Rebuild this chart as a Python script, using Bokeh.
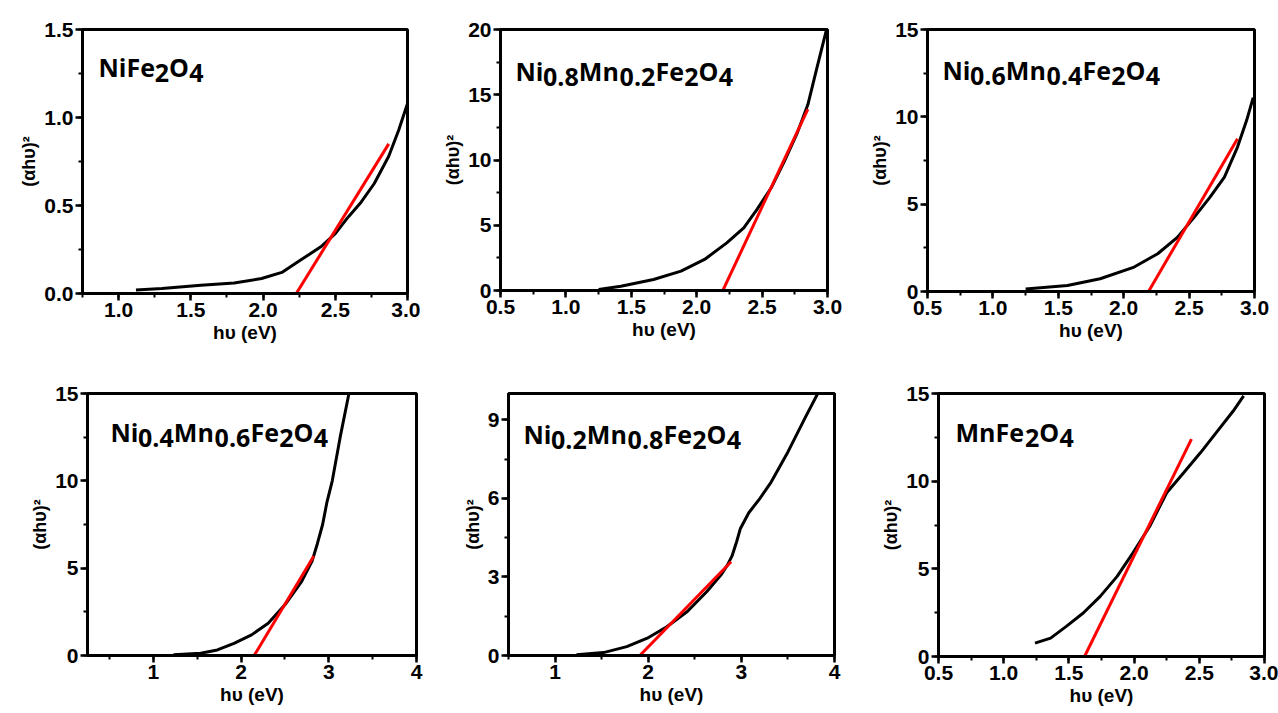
from bokeh.plotting import figure
from bokeh.layouts import column, row
from bokeh.models import Label, SingleIntervalTicker, NumeralTickFormatter, Range1d
from bokeh.embed import file_html
from bokeh.resources import INLINE

# ---------------- data ----------------
# NiFe2O4
x1 = [1.12, 1.30, 1.57, 1.80, 1.99, 2.13, 2.26, 2.40, 2.50, 2.59, 2.68, 2.77, 2.87, 2.94, 3.00]
y1 = [0.02, 0.028, 0.047, 0.06, 0.085, 0.12, 0.19, 0.265, 0.34, 0.435, 0.52, 0.625, 0.78, 0.93, 1.08]
fx1 = [2.23, 2.87]
fy1 = [0.0, 0.85]
# Ni0.8Mn0.2Fe2O4
x2 = [1.25, 1.42, 1.67, 1.88, 2.06, 2.23, 2.36, 2.46, 2.57, 2.67, 2.77, 2.85, 2.92, 2.99]
y2 = [0.08, 0.33, 0.84, 1.48, 2.38, 3.65, 4.8, 6.2, 7.87, 9.9, 12.1, 14.25, 17.1, 19.9]
fx2 = [2.20, 2.85]
fy2 = [0.0, 13.9]
# Ni0.6Mn0.4Fe2O4
x3 = [1.25, 1.57, 1.82, 2.08, 2.26, 2.41, 2.54, 2.66, 2.77, 2.87, 2.94, 2.99]
y3 = [0.15, 0.34, 0.73, 1.4, 2.16, 3.1, 4.26, 5.4, 6.55, 8.27, 9.8, 11.1]
fx3 = [2.19, 2.87]
fy3 = [0.0, 8.75]
# Ni0.4Mn0.6Fe2O4
x4 = [1.23, 1.54, 1.73, 1.92, 2.12, 2.31, 2.50, 2.69, 2.81, 2.87, 2.93, 2.98, 3.04, 3.13, 3.23]
y4 = [0.04, 0.13, 0.32, 0.7, 1.18, 1.85, 2.9, 4.23, 5.4, 6.4, 7.5, 8.8, 10.0, 12.5, 15.0]
fx4 = [2.15, 2.83]
fy4 = [0.0, 5.7]
# Ni0.2Mn0.8Fe2O4
x5 = [1.23, 1.52, 1.77, 1.99, 2.20, 2.42, 2.63, 2.78, 2.85, 2.90, 2.95, 2.99, 3.08, 3.20, 3.32, 3.50, 3.68, 3.82]
y5 = [0.03, 0.11, 0.34, 0.66, 1.1, 1.68, 2.44, 3.07, 3.45, 3.8, 4.35, 4.85, 5.45, 6.0, 6.62, 7.77, 9.04, 10.0]
fx5 = [1.91, 2.89]
fy5 = [0.0, 3.58]
# MnFe2O4
x6 = [1.24, 1.36, 1.48, 1.61, 1.74, 1.87, 1.99, 2.12, 2.25, 2.38, 2.51, 2.63, 2.76, 2.84]
y6 = [0.76, 1.05, 1.72, 2.48, 3.43, 4.57, 5.9, 7.43, 9.34, 10.48, 11.63, 12.77, 14.0, 14.87]
fx6 = [1.62, 2.44]
fy6 = [0.0, 12.4]

# formula labels: (text, is_subscript)
t1 = [("NiFe", 0), ("2", 1), ("O", 0), ("4", 1)]
t2 = [("Ni", 0), ("0.8", 1), ("Mn", 0), ("0.2", 1), ("Fe", 0), ("2", 1), ("O", 0), ("4", 1)]
t3 = [("Ni", 0), ("0.6", 1), ("Mn", 0), ("0.4", 1), ("Fe", 0), ("2", 1), ("O", 0), ("4", 1)]
t4 = [("Ni", 0), ("0.4", 1), ("Mn", 0), ("0.6", 1), ("Fe", 0), ("2", 1), ("O", 0), ("4", 1)]
t5 = [("Ni", 0), ("0.2", 1), ("Mn", 0), ("0.8", 1), ("Fe", 0), ("2", 1), ("O", 0), ("4", 1)]
t6 = [("MnFe", 0), ("2", 1), ("O", 0), ("4", 1)]

x_label = "hυ (eV)"
y_label = "(αhυ)²"

# ---------------- styling helpers ----------------
TITLE_FS = 25
CW = {"N": .80, "i": .30, "M": .98, "n": .65, "F": .56, "e": .59, "O": .81, ".": .29}


def seg_w(s):
    return sum(CW.get(c, .572) for c in s) * TITLE_FS


def make_panel(xs, ys, fx, fy, xr, yr, xint, yint, xfmt, yfmt, segs,
               fw, fh, bl, br, bt, bb, tdx, tdy):
    p = figure(frame_width=fw, frame_height=fh,
               min_border_left=bl, min_border_right=br,
               min_border_top=bt, min_border_bottom=bb,
               x_range=Range1d(*xr), y_range=Range1d(*yr),
               output_backend="svg", toolbar_location=None,
               background_fill_color="white", border_fill_color="white")
    p.xgrid.visible = False
    p.ygrid.visible = False
    p.outline_line_color = "black"
    p.outline_line_width = 3
    p.outline_line_alpha = 1

    p.line(xs, ys, line_color="black", line_width=3)
    p.line(fx, fy, line_color="#ff0000", line_width=3)

    p.xaxis.ticker = SingleIntervalTicker(interval=xint, num_minor_ticks=2)
    p.yaxis.ticker = SingleIntervalTicker(interval=yint, num_minor_ticks=2)
    p.xaxis.formatter = NumeralTickFormatter(format=xfmt)
    p.yaxis.formatter = NumeralTickFormatter(format=yfmt)
    p.xaxis.axis_label = x_label
    p.yaxis.axis_label = y_label
    for ax in (p.xaxis[0], p.yaxis[0]):
        ax.axis_line_width = 3
        ax.axis_line_color = "black"
        ax.major_tick_line_width = 2.5
        ax.minor_tick_line_width = 2
        ax.major_tick_line_color = "black"
        ax.minor_tick_line_color = "black"
        ax.major_tick_out = 7
        ax.major_tick_in = 0
        ax.minor_tick_out = 4
        ax.minor_tick_in = 0
        ax.major_label_text_font = "Liberation Sans"
        ax.major_label_text_font_style = "bold"
        ax.major_label_text_font_size = "21px"
        ax.major_label_text_color = "black"
        ax.major_label_standoff = 2
        ax.axis_label_text_font = "Liberation Sans"
        ax.axis_label_text_font_style = "bold"
        ax.axis_label_text_color = "black"
        ax.axis_label_standoff = 2
    p.xaxis.axis_label_text_font_size = "19px"
    p.yaxis.axis_label_text_font_size = "18px"

    cum = 0.0
    for txt, sub in segs:
        p.add_layout(Label(x=xr[0], y=yr[1], x_offset=tdx + cum,
                           y_offset=-(tdy + (6 if sub else 0)),
                           text=txt, text_font="Open Sans", text_font_style="bold",
                           text_font_size=f"{TITLE_FS}px", text_color="black",
                           text_baseline="alphabetic", text_align="left"))
        cum += seg_w(txt)
    return p


f1 = make_panel(x1, y1, fx1, fy1, (0.75, 3.0), (0, 1.5), 0.5, 0.5, "0.0", "0.0", t1,
                325, 264, 82, 13, 26, 59, 16, 37)
f2 = make_panel(x2, y2, fx2, fy2, (0.5, 3.0), (0, 20), 0.5, 5, "0.0", "0", t2,
                327, 261, 80, 15, 25, 63, 15, 41)
f3 = make_panel(x3, y3, fx3, fy3, (0.5, 3.0), (0, 15), 0.5, 5, "0.0", "0", t3,
                327, 262, 85, 24, 29, 58, 15, 40)
f4 = make_panel(x4, y4, fx4, fy4, (0.25, 4.0), (0, 15), 1, 5, "0", "0", t4,
                329, 262, 87, 12, 43, 59, 23, 38)
f5 = make_panel(x5, y5, fx5, fy5, (0.5, 4.0), (0, 10), 1, 3, "0", "0", t5,
                326, 262, 80, 14, 43, 59, 15, 40)
f6 = make_panel(x6, y6, fx6, fy6, (0.5, 3.0), (0, 15), 0.5, 5, "0.0", "0", t6,
                326, 263, 90, 14, 44, 57, 17, 38)

layout = column(row(f1, f2, f3), row(f4, f5, f6))
open("out.html", "w").write(file_html(layout, INLINE))
